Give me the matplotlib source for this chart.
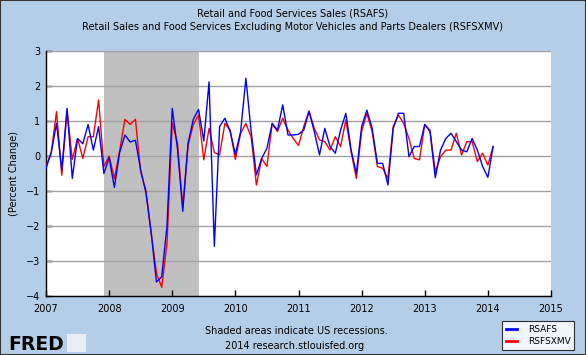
import matplotlib
matplotlib.use("Agg")
import matplotlib.pyplot as plt
from matplotlib.patches import Rectangle
import numpy as np

# monthly % change, Jan 2007 .. Feb 2014
rsafs = [-0.35, 0.1, 0.93, -0.4, 1.36, -0.64, 0.5, 0.35, 0.9, 0.17, 0.84, -0.5,
         -0.05, -0.9, 0.1, 0.6, 0.4, 0.45, -0.4, -1.05, -2.2, -3.6, -3.45, -2.0,
         1.36, 0.2, -1.58, 0.36, 1.05, 1.33, 0.43, 2.12, -2.58, 0.84, 1.08, 0.7,
         0.05, 0.7, 2.22, 0.7, -0.54, -0.07, 0.22, 0.93, 0.74, 1.46, 0.6, 0.6,
         0.62, 0.74, 1.27, 0.7, 0.03, 0.79, 0.27, 0.08, 0.74, 1.22, 0.17, -0.5,
         0.84, 1.31, 0.79, -0.21, -0.21, -0.83, 0.79, 1.22, 1.22, -0.02, 0.27, 0.27,
         0.9, 0.7, -0.62, 0.17, 0.5, 0.65, 0.41, 0.17, 0.12, 0.5, 0.17, -0.3,
         -0.61, 0.27]
rsfsxmv = [-0.3, 0.1, 1.27, -0.55, 1.3, -0.1, 0.5, -0.07, 0.55, 0.55, 1.6, -0.3,
           0.0, -0.65, 0.15, 1.05, 0.9, 1.05, -0.45, -1.0, -2.2, -3.35, -3.75, -2.5,
           0.95, 0.35, -1.45, 0.3, 0.9, 1.17, -0.11, 0.79, 0.1, 0.03, 0.93, 0.75,
           -0.1, 0.65, 0.93, 0.55, -0.83, -0.07, -0.3, 0.93, 0.7, 1.08, 0.74, 0.5,
           0.3, 0.84, 1.29, 0.79, 0.46, 0.41, 0.17, 0.55, 0.27, 1.03, 0.12, -0.64,
           0.7, 1.22, 0.7, -0.3, -0.35, -0.64, 0.84, 1.17, 0.93, 0.5, -0.07, -0.11,
           0.9, 0.74, -0.45, -0.02, 0.17, 0.17, 0.65, 0.03, 0.41, 0.41, -0.16, 0.08,
           -0.26, 0.27]
start_year = 2007
recession = (2007 + 11 / 12, 2009 + 5 / 12)
years = list(range(2007, 2016))
yticks = list(range(-4, 4))

t = start_year + np.arange(len(rsafs)) / 12

bg = '#B4CEE8'
fig = plt.figure(figsize=(5.86, 3.55), dpi=100, facecolor=bg)
ax = fig.add_axes([46 / 586, 59 / 355, 505 / 586, 245 / 355])
ax.set_facecolor('white')

ax.axvspan(recession[0], recession[1], color='#C0C0C0', zorder=1, lw=0)
for v in yticks:
    ax.axhline(v, color='#A0A0A0', lw=1, zorder=2)

ax.plot(t, rsafs, color='#0000FF', lw=1.0, zorder=4, label='RSAFS')
ax.plot(t, rsfsxmv, color='#FF0000', lw=1.0, zorder=3, label='RSFSXMV')

ax.set_xlim(2007, 2015)
ax.set_ylim(-4, 3)
ax.set_xticks(years)
ax.set_yticks(yticks)
ax.tick_params(direction='in', length=4, width=1, color='black', labelsize=7)
ax.tick_params(axis='x', pad=6)
ax.tick_params(axis='y', pad=4)
for s in ['top', 'right']:
    ax.spines[s].set_visible(False)
for s in ['left', 'bottom']:
    ax.spines[s].set_color('black')
    ax.spines[s].set_linewidth(1)
ax.set_ylabel('(Percent Change)', fontsize=7, labelpad=5)

fig.text(0.5, 1 - 14 / 355, 'Retail and Food Services Sales (RSAFS)',
         ha='center', va='center', fontsize=7)
fig.text(0.5, 1 - 27 / 355,
         'Retail Sales and Food Services Excluding Motor Vehicles and Parts Dealers (RSFSXMV)',
         ha='center', va='center', fontsize=7)
fig.text(0.505, 1 - 331 / 355, 'Shaded areas indicate US recessions.',
         ha='center', va='center', fontsize=7)
fig.text(0.503, 1 - 346 / 355, '2014 research.stlouisfed.org',
         ha='center', va='center', fontsize=7)

# FRED mark
fig.text(8 / 586, 1 - 344 / 355, 'FRED', ha='left', va='center',
         fontsize=13.5, fontweight='bold', color='black')
fig.patches.append(Rectangle((67 / 586, 3 / 355), 19 / 586, 18 / 355,
                             transform=fig.transFigure, facecolor='#E8EEF4',
                             edgecolor='none'))

leg = fig.legend(loc='lower right', bbox_to_anchor=(579 / 586, 0 / 355),
                 fontsize=6.5, frameon=True, fancybox=False, handlelength=1.2,
                 borderpad=0.45, labelspacing=0.35, handletextpad=1.2)
leg.get_frame().set_edgecolor('black')
leg.get_frame().set_linewidth(0.8)
for ln in leg.get_lines():
    ln.set_linewidth(2)

fig.patches.append(Rectangle((0, 0), 1, 1, transform=fig.transFigure,
                             facecolor='none', edgecolor='#333333', lw=1.5))

fig.savefig('out.png', dpi=100, facecolor=bg)
